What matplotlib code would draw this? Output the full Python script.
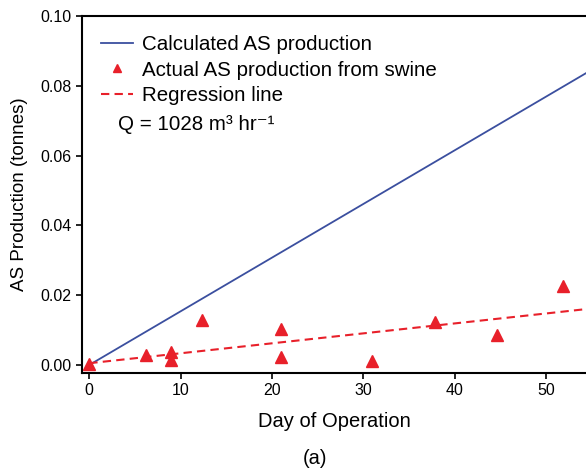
import numpy as np
import matplotlib
matplotlib.use('Agg')
from matplotlib import pyplot as plt

plt.rcParams['font.family'] = ['Liberation Sans', 'DejaVu Sans']

# Actual AS production from swine (day, tonnes)
days = [0, 6.2, 9.0, 9.0, 12.3, 21.0, 21.0, 31.0, 37.9, 44.7, 51.9]
actual = [0.0002, 0.0029, 0.0038, 0.0014, 0.0129, 0.0103, 0.0024, 0.0011, 0.0124, 0.0085, 0.0226]

# calculated line and regression line (slope, intercept)
calc_slope, calc_icpt = 0.001537, 0.0
reg_slope, reg_icpt = 0.000285, 0.0005

xticks = [0, 10, 20, 30, 40, 50]
yticks = [0.00, 0.02, 0.04, 0.06, 0.08, 0.10]

x_line = np.array([0, 56])

fig = plt.figure(figsize=(5.86, 4.70), dpi=100)
ax = fig.add_axes([0.1399, 0.2064, 0.8601, 0.7596])

ax.plot(x_line, calc_slope*x_line + calc_icpt, color='#3b4f9f', lw=1.3,
        label='Calculated AS production')
ax.plot(days, actual, linestyle='none', marker='^', color='#e8202a', ms=8,
        label='Actual AS production from swine')
ax.plot(x_line, reg_slope*x_line + reg_icpt, color='#e8202a', lw=1.5, ls=(0, (4, 2.5)),
        label='Regression line')

ax.set_xlim(-0.8, 54.4)
ax.set_ylim(-0.0023, 0.10)
ax.set_xticks(xticks)
ax.set_yticks(yticks)
ax.set_yticklabels(['%.2f' % v for v in yticks])
ax.tick_params(direction='out', length=4.5, width=1.2, labelsize=11.5, pad=3)
ax.spines['right'].set_visible(False)
for s in ['left', 'bottom', 'top']:
    ax.spines[s].set_linewidth(1.5)

ax.set_xlabel('Day of Operation', fontsize=14.5, labelpad=10)
ax.set_ylabel('AS Production (tonnes)', fontsize=13.5, labelpad=9)

leg = ax.legend(loc='upper left', frameon=False, fontsize=14.8, handlelength=1.55,
                handletextpad=0.45, labelspacing=0.33, borderaxespad=0, borderpad=0,
                markerscale=0.75, bbox_to_anchor=(0.0377, 0.947))
ax.text(0.0714, 0.697, 'Q = 1028 m\u00b3 hr\u207b\u00b9', transform=ax.transAxes,
        fontsize=14.8, va='center', family=['Liberation Sans', 'DejaVu Sans'])

fig.text(0.538, 0.012, '(a)', ha='center', fontsize=14.5)

plt.savefig('out.png', dpi=100)
